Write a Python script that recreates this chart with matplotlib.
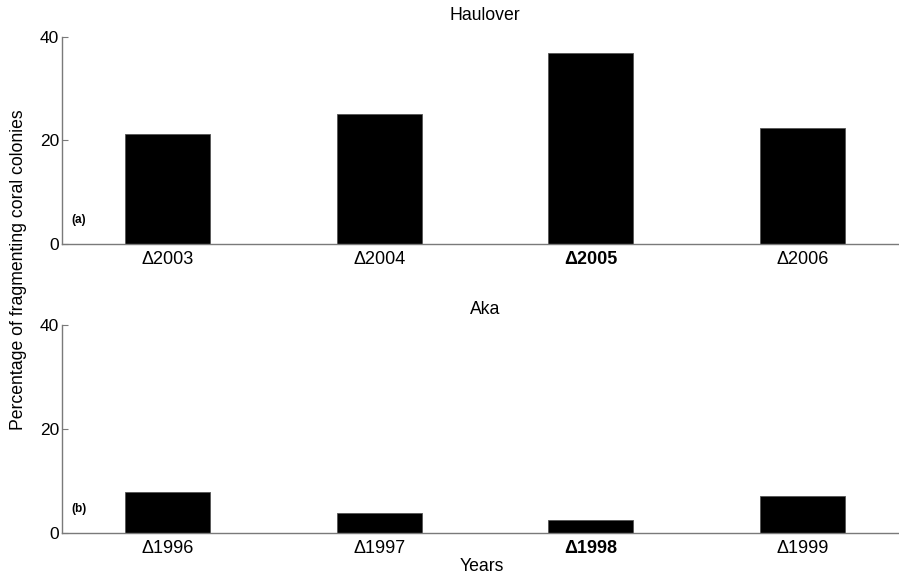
import matplotlib
matplotlib.use("Agg")
from matplotlib import pyplot as plt

plt.rcParams['font.family'] = ['Liberation Sans', 'DejaVu Sans']

# Haulover panel
haulover_years = ['2003', '2004', '2005', '2006']
haulover_vals = [21.2, 25.2, 36.9, 22.5]
# Aka panel
aka_years = ['1996', '1997', '1998', '1999']
aka_vals = [7.9, 3.9, 2.5, 7.05]
bold_idx = 2  # 2005 / 1998 labelled in bold

fig = plt.figure(figsize=(8.99, 5.79), dpi=100)
ax1 = fig.add_axes([0.069, 0.5786, 0.941, 0.3575])
ax2 = fig.add_axes([0.069, 0.0794, 0.941, 0.3593])

axis_grey = '#7a7a7a'


def panel(ax, years, vals, title, tag, tpad):
    x = list(range(1, len(vals) + 1))
    ax.bar(x, vals, width=0.4, color='black', edgecolor='#555555', linewidth=0.6)
    ax.set_xlim(0.5, 4.5)
    ax.set_ylim(0, 40)
    ax.set_yticks([0, 20, 40])
    ax.set_xticks(x)
    ax.set_xticklabels(['\u0394' + y for y in years], fontsize=13)
    ax.get_xticklabels()[bold_idx].set_fontweight('bold')
    ax.tick_params(axis='x', length=0, pad=5)
    ax.tick_params(axis='y', direction='in', length=4, width=0.8, color=axis_grey,
                   labelsize=12.5, pad=2)
    for s in ['top', 'right']:
        ax.spines[s].set_visible(False)
    for s in ['left', 'bottom']:
        ax.spines[s].set_color(axis_grey)
        ax.spines[s].set_linewidth(1.0)
    ax.set_title(title, fontsize=12.7, pad=tpad)
    ax.text(0.545, 4.6, tag, fontsize=8.5, fontweight='bold', va='center', ha='left')


panel(ax1, haulover_years, haulover_vals, 'Haulover', '(a)', 12)
panel(ax2, aka_years, aka_vals, 'Aka', '(b)', 8)

fig.text(0.021, 0.534, 'Percentage of fragmenting coral colonies', rotation=90,
         fontsize=12.7, ha='center', va='center')
fig.text(0.536, 0.022, 'Years', fontsize=12.7, ha='center', va='center')

fig.savefig('out.png', dpi=100)
